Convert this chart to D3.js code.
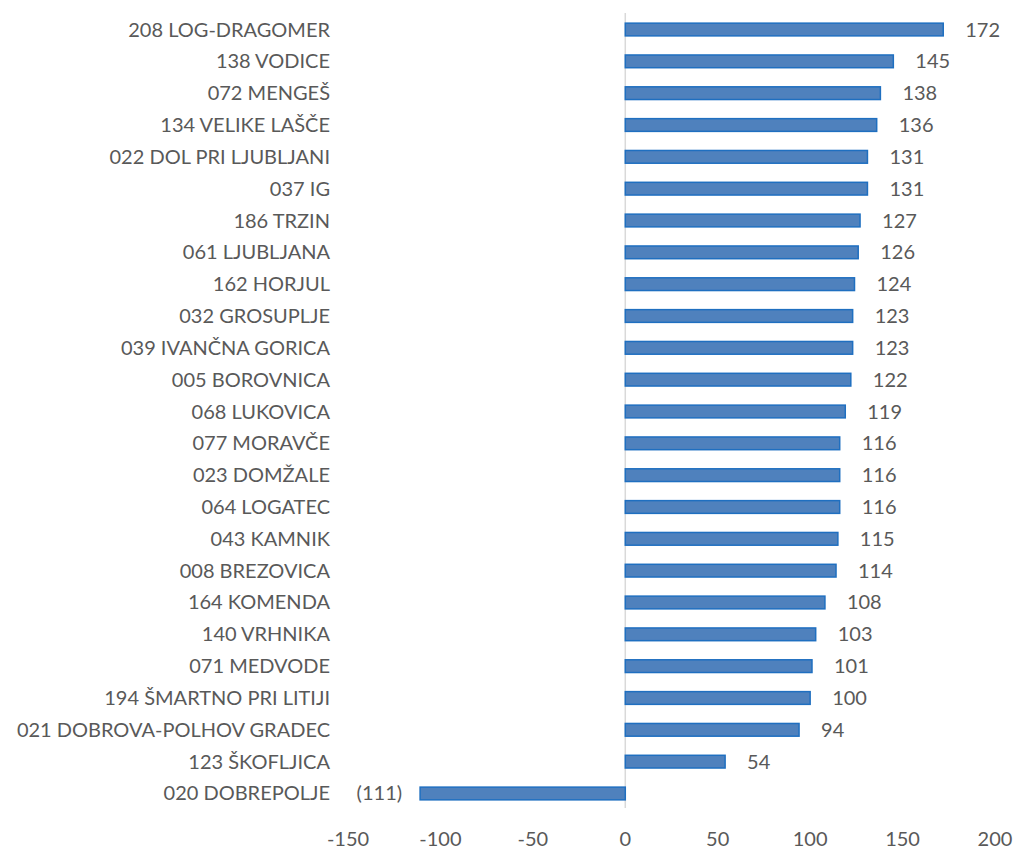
<!DOCTYPE html>
<html>
<head>
<meta charset="utf-8">
<script src="https://cdn.jsdelivr.net/npm/d3@7"></script>
<style>
  body { margin: 0; background: #fff; }
  text { font-family: Lato, "Open Sans", sans-serif; fill: #595959; }
</style>
</head>
<body>
<svg width="1018" height="849"></svg>
<script>
var categories = ["208 LOG-DRAGOMER", "138 VODICE", "072 MENGEŠ", "134 VELIKE LAŠČE",
  "022 DOL PRI LJUBLJANI", "037 IG", "186 TRZIN", "061 LJUBLJANA", "162 HORJUL",
  "032 GROSUPLJE", "039 IVANČNA GORICA", "005 BOROVNICA", "068 LUKOVICA", "077 MORAVČE",
  "023 DOMŽALE", "064 LOGATEC", "043 KAMNIK", "008 BREZOVICA", "164 KOMENDA",
  "140 VRHNIKA", "071 MEDVODE", "194 ŠMARTNO PRI LITIJI", "021 DOBROVA-POLHOV GRADEC",
  "123 ŠKOFLJICA", "020 DOBREPOLJE"];
var values = [172, 145, 138, 136, 131, 131, 127, 126, 124, 123, 123, 122, 119, 116,
  116, 116, 115, 114, 108, 103, 101, 100, 94, 54, -111];
var ticks = [-150, -100, -50, 0, 50, 100, 150, 200];

var svg = d3.select("svg");

var x = d3.scaleLinear()
    .domain([-150, 200])
    .range([348, 995]);

var y = d3.scaleBand()
    .domain(categories)
    .range([13.6, 809.4])
    .paddingInner(0.6)
    .paddingOuter(0.3);

var fmt = function(v) { return v < 0 ? "(" + Math.abs(v) + ")" : "" + v; };

// zero line
svg.append("line")
    .attr("x1", x(0)).attr("x2", x(0))
    .attr("y1", 13).attr("y2", 808)
    .style("stroke", "#d9d9d9")
    .style("stroke-width", 1.5);

svg.append("g")
  .selectAll("rect")
  .data(values)
  .enter().append("rect")
    .attr("x", function(d) { return x(Math.min(0, d)); })
    .attr("y", function(d, i) { return y(categories[i]); })
    .attr("width", function(d) { return Math.abs(x(d) - x(0)); })
    .attr("height", y.bandwidth())
    .style("fill", "#4f81bd")
    .style("stroke", "#1f6fc0")
    .style("stroke-width", 1.5);

// category labels
svg.append("g")
  .selectAll("text")
  .data(categories)
  .enter().append("text")
    .attr("x", 330)
    .attr("y", function(d) { return y(d) + y.bandwidth() / 2; })
    .attr("dy", "0.35em")
    .attr("text-anchor", "end")
    .style("font-size", "20px")
    .text(function(d) { return d; });

// value labels
svg.append("g")
  .selectAll("text")
  .data(values)
  .enter().append("text")
    .attr("x", function(d) { return d < 0 ? x(d) - 18 : x(d) + 22; })
    .attr("y", function(d, i) { return y(categories[i]) + y.bandwidth() / 2; })
    .attr("dy", "0.35em")
    .attr("text-anchor", function(d) { return d < 0 ? "end" : "start"; })
    .style("font-size", "20px")
    .text(fmt);

// x axis tick labels
svg.append("g")
  .selectAll("text")
  .data(ticks)
  .enter().append("text")
    .attr("x", function(d) { return x(d); })
    .attr("y", 846)
    .attr("text-anchor", "middle")
    .style("font-size", "20px")
    .text(function(d) { return d; });
</script>
</body>
</html>
